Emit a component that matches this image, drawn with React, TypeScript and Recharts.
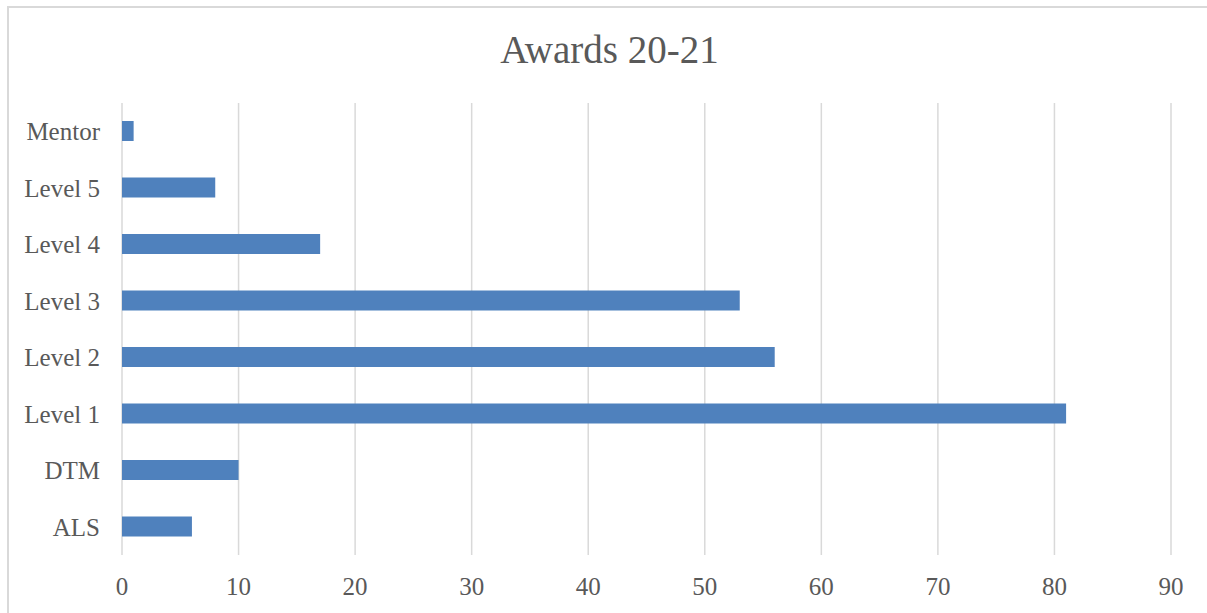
import React from "react";
import { BarChart, Bar, XAxis, YAxis, CartesianGrid } from "recharts";

const categories = ["Mentor", "Level 5", "Level 4", "Level 3", "Level 2", "Level 1", "DTM", "ALS"];
const awards = [1, 8, 17, 53, 56, 81, 10, 6];
const xTicks = [0, 10, 20, 30, 40, 50, 60, 70, 80, 90];

const data = categories.map((name, i) => ({ name, value: awards[i] }));

const font = "'Liberation Serif', 'Times New Roman', serif";
const textColor = "#595959";

const App: React.FC = () => {
  return (
    <div style={{ position: "absolute", left: 0, top: 0, width: 1207, height: 613, overflow: "hidden", background: "#fff" }}>
      {/* chart area frame, only top and left edges show */}
      <div
        style={{
          position: "absolute",
          left: 7,
          top: 6,
          width: 1240,
          height: 640,
          borderTop: "2px solid #d9d9d9",
          borderLeft: "2px solid #d9d9d9",
        }}
      />
      <div
        style={{
          position: "absolute",
          left: 0,
          top: 30,
          width: 1219,
          textAlign: "center",
          fontFamily: font,
          fontSize: 39,
          lineHeight: "39px",
          color: textColor,
        }}
      >
        Awards 20-21
      </div>
      <div style={{ position: "absolute", left: 0, top: 0 }}>
        <BarChart
          width={1207}
          height={613}
          data={data}
          layout="vertical"
          margin={{ top: 103, right: 36, bottom: 18, left: 0 }}
        >
          <CartesianGrid horizontal={false} stroke="#d9d9d9" strokeWidth={1.5} />
          <XAxis
            type="number"
            domain={[0, 90]}
            ticks={xTicks}
            interval={0}
            axisLine={false}
            tickLine={false}
            tickMargin={16}
            height={40}
            tick={{ fill: textColor, fontFamily: font, fontSize: 25 }}
          />
          <YAxis
            type="category"
            dataKey="name"
            width={122}
            axisLine={false}
            tickLine={false}
            tickMargin={16}
            interval={0}
            tick={{ fill: textColor, fontFamily: font, fontSize: 25 }}
          />
          <Bar dataKey="value" fill="#4f81bd" barSize={20} isAnimationActive={false} />
        </BarChart>
      </div>
    </div>
  );
};

export default App;
